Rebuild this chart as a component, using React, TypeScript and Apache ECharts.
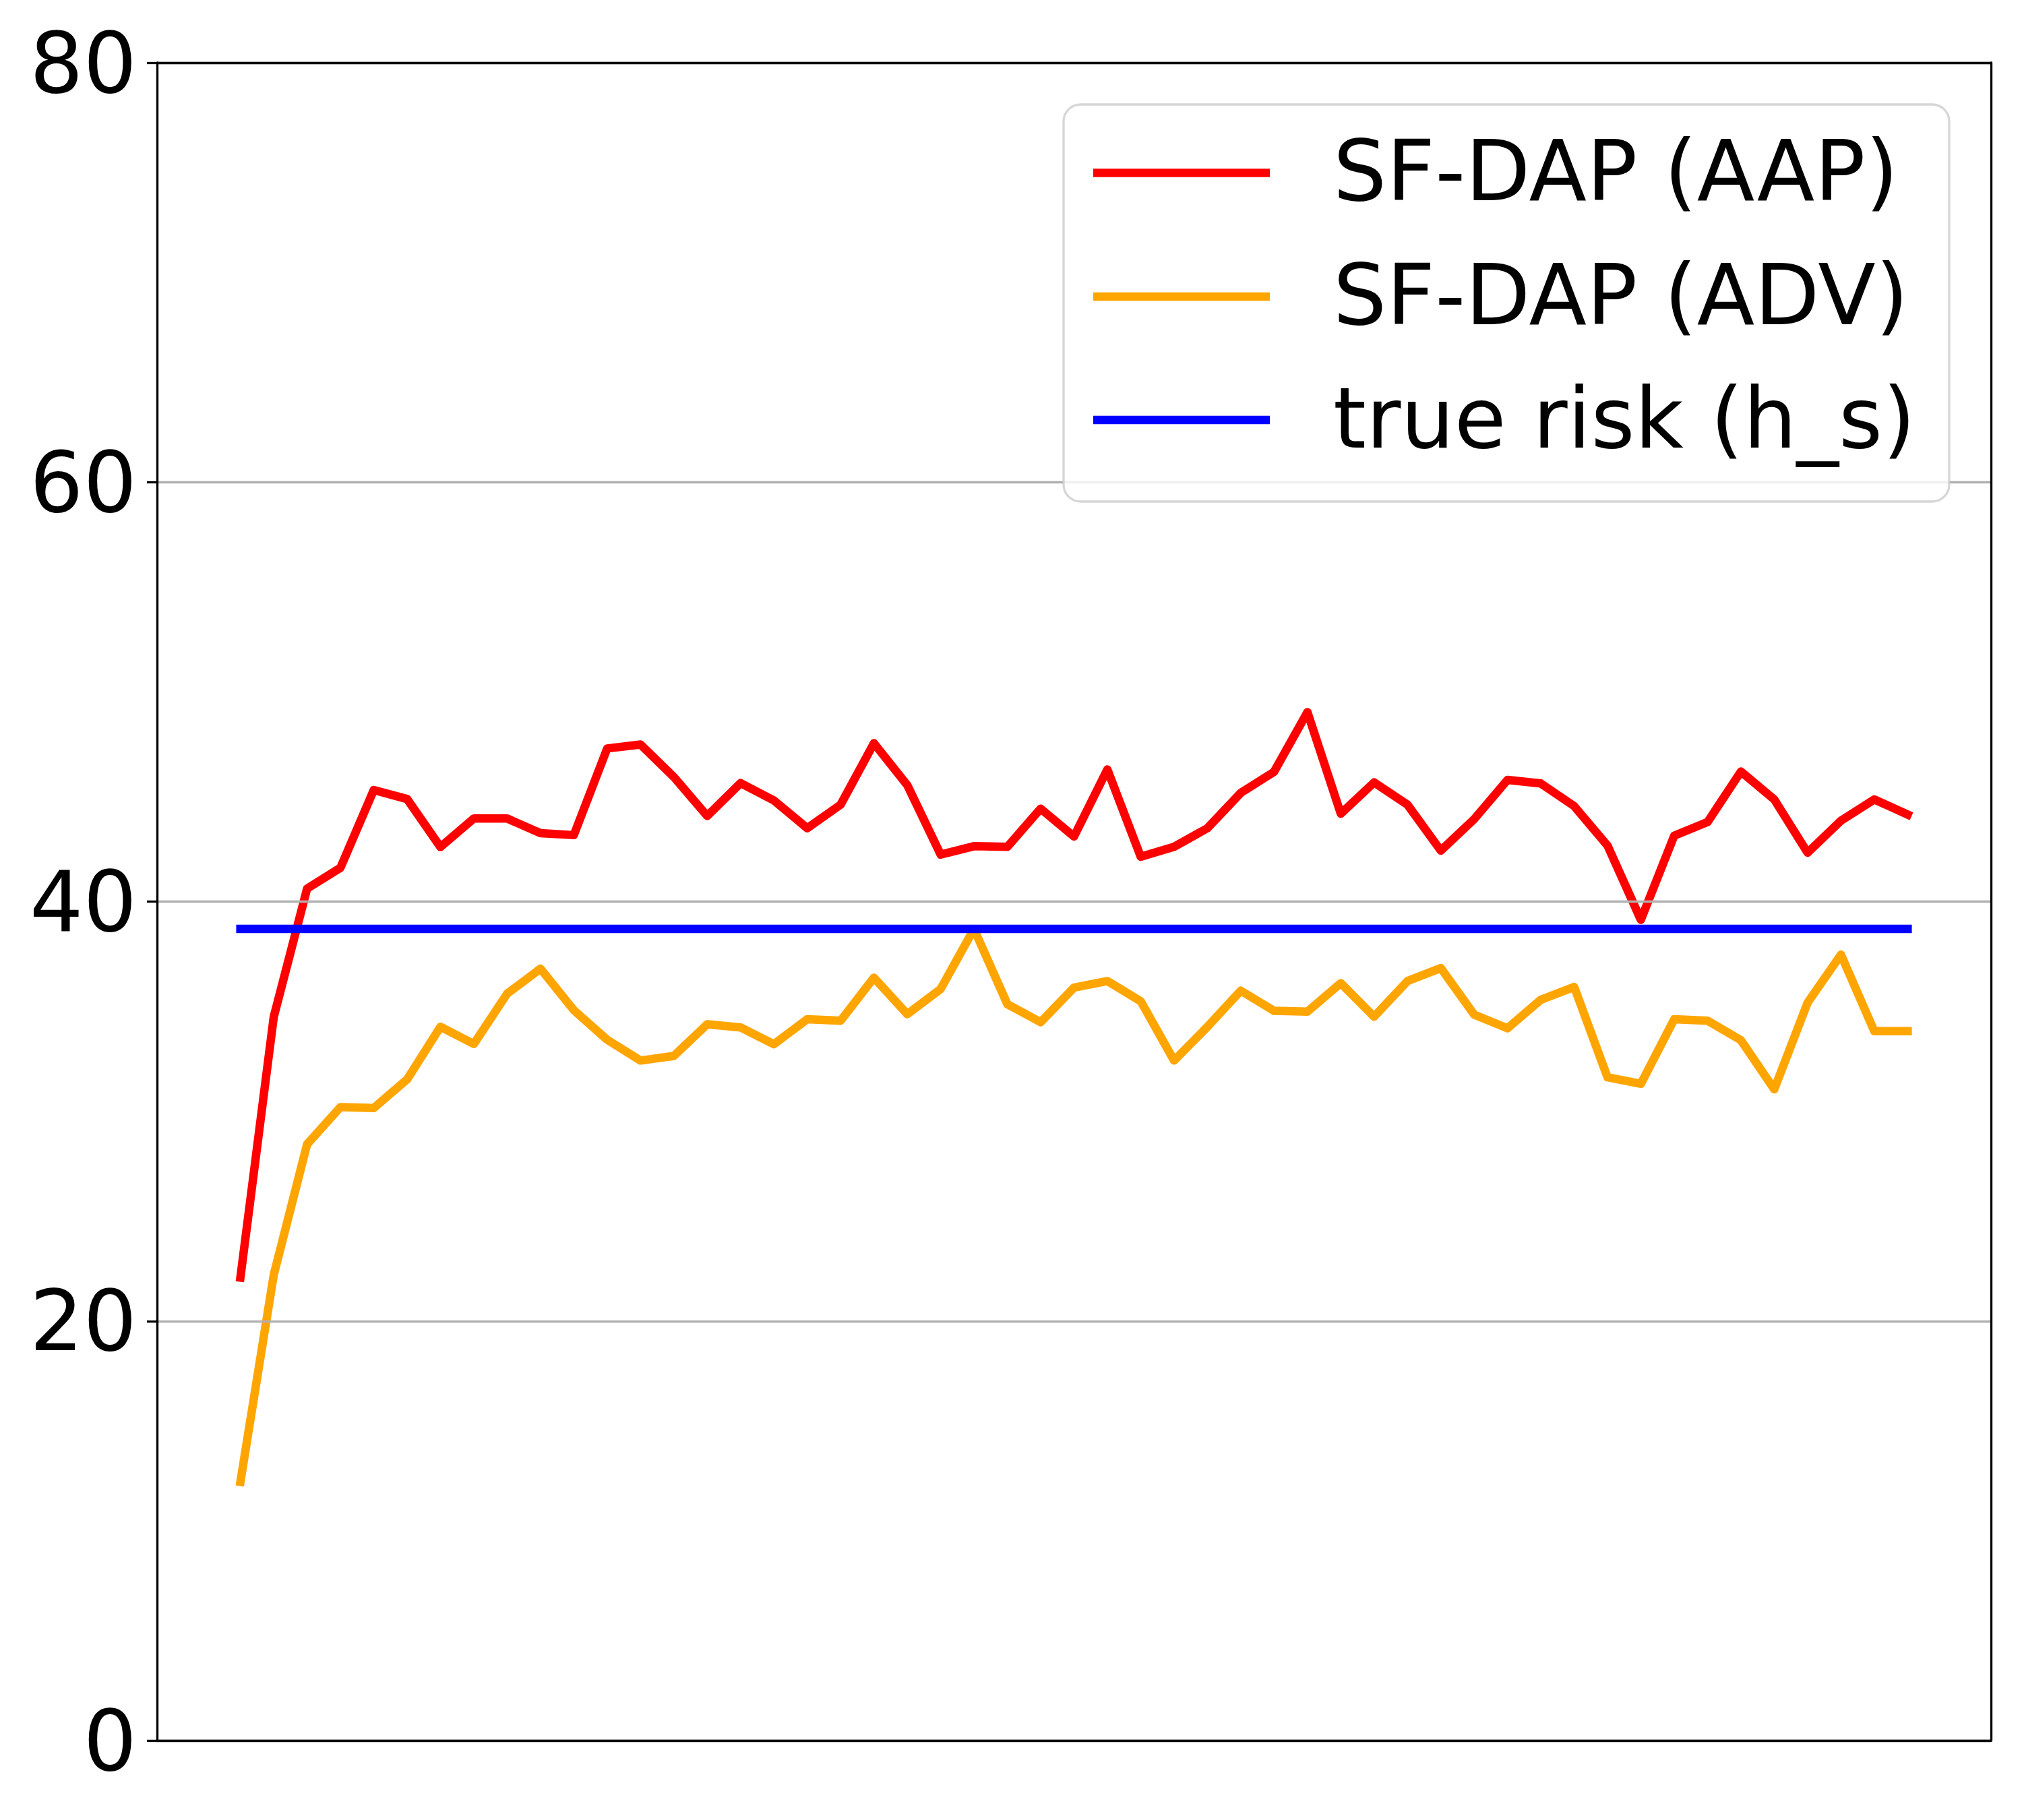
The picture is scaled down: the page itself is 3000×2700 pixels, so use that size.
import React, { useEffect, useRef } from "react";
import * as echarts from "echarts";

const xIndex: number[] = Array.from({ length: 51 }, (_, i) => i);

const aapValues: number[] = [
  22.07, 34.5, 40.62, 41.61, 45.32, 44.89, 42.6, 43.96, 43.96, 43.26, 43.17,
  47.3, 47.49, 45.94, 44.08, 45.65, 44.82, 43.5, 44.62, 47.55, 45.55, 42.24,
  42.64, 42.61, 44.43, 43.1, 46.3, 42.14, 42.61, 43.5, 45.18, 46.19, 49.03,
  44.19, 45.68, 44.62, 42.43, 43.93, 45.8, 45.63, 44.55, 42.67, 39.13, 43.14,
  43.79, 46.2, 44.87, 42.33, 43.86, 44.87, 44.15,
];

const advValues: number[] = [
  12.33, 22.2, 28.43, 30.2, 30.16, 31.52, 34.03, 33.21, 35.61, 36.8, 34.82,
  33.41, 32.42, 32.64, 34.15, 34.0, 33.2, 34.39, 34.32, 36.37, 34.63, 35.83,
  38.7, 35.11, 34.25, 35.9, 36.21, 35.25, 32.42, 34.03, 35.75, 34.79, 34.75,
  36.11, 34.51, 36.21, 36.83, 34.61, 33.96, 35.32, 35.93, 31.62, 31.31, 34.39,
  34.32, 33.39, 31.05, 35.18, 37.47, 33.82, 33.82,
];

const trueRisk = 38.7;

const seriesNames: string[] = ["SF-DAP (AAP)", "SF-DAP (ADV)", "true risk (h_s)"];
const seriesColors: string[] = ["#ff0000", "#ffa500", "#0000ff"];

const yTicks: number[] = [0, 20, 40, 60, 80];

const FONT = "DejaVu Sans";

export default function App() {
  const ref = useRef<HTMLDivElement>(null);

  useEffect(() => {
    document.body.style.margin = "0";
    if (!ref.current) return;
    const chart = echarts.init(ref.current, undefined, { renderer: "svg" });

    const lineW = 12.5;
    const spineW = 3.3;
    const mk = (vals: number[]) => xIndex.map((x, i) => [x, vals[i]]);
    const riskData = xIndex.map((x) => [x, trueRisk]);
    const allData = [mk(aapValues), mk(advValues), riskData];

    const legendX = 1578;
    const legendY = 155;
    const rowYs = [256.5, 440, 623];

    const legendGraphics: any[] = [
      {
        type: "rect",
        shape: { x: legendX, y: legendY, width: 1314, height: 589, r: 25 },
        style: {
          fill: "rgba(255,255,255,0.8)",
          stroke: "rgba(204,204,204,0.8)",
          lineWidth: 3.3,
        },
        z: 100,
      },
    ];
    seriesNames.forEach((name, i) => {
      legendGraphics.push({
        type: "line",
        shape: { x1: 1622, y1: rowYs[i], x2: 1884, y2: rowYs[i] },
        style: { stroke: seriesColors[i], lineWidth: lineW },
        z: 101,
      });
      legendGraphics.push({
        type: "text",
        x: 1978,
        y: rowYs[i] - 3,
        style: {
          text: name,
          fontSize: 125,
          fontFamily: FONT,
          fill: "#000",
          verticalAlign: "middle",
          align: "left",
        },
        z: 101,
      });
    });

    const spine = { show: true, onZero: false, lineStyle: { color: "#000", width: spineW } };
    const xMin = -2.5;
    const xMax = 52.5;

    chart.setOption({
      animation: false,
      backgroundColor: "#ffffff",
      grid: {
        left: 233,
        right: 46,
        top: 93,
        bottom: 118,
        show: false,
        containLabel: false,
      },
      xAxis: [
        {
          type: "value",
          position: "bottom",
          min: xMin,
          max: xMax,
          axisLine: spine,
          axisTick: { show: false },
          axisLabel: { show: false },
          splitLine: { show: false },
          z: 10,
        },
        {
          type: "value",
          position: "top",
          min: xMin,
          max: xMax,
          axisLine: spine,
          axisTick: { show: false },
          axisLabel: { show: false },
          splitLine: { show: false },
          z: 10,
        },
      ],
      yAxis: [
        {
          type: "value",
          position: "left",
          min: yTicks[0],
          max: yTicks[yTicks.length - 1],
          interval: 20,
          axisLine: spine,
          axisTick: {
            show: true,
            length: 15,
            lineStyle: { color: "#000", width: spineW },
          },
          axisLabel: {
            fontSize: 125,
            fontFamily: FONT,
            color: "#000",
            margin: 30,
          },
          splitLine: {
            show: true,
            lineStyle: { color: "#b0b0b0", width: spineW },
          },
          z: 10,
        },
        {
          type: "value",
          position: "right",
          min: yTicks[0],
          max: yTicks[yTicks.length - 1],
          interval: 20,
          axisLine: spine,
          axisTick: { show: false },
          axisLabel: { show: false },
          splitLine: { show: false },
          z: 10,
        },
      ],
      series: seriesNames.map((name, i) => ({
        name,
        type: "line",
        xAxisIndex: 0,
        yAxisIndex: 0,
        data: allData[i],
        showSymbol: false,
        symbol: "none",
        lineStyle: {
          color: seriesColors[i],
          width: lineW,
          cap: "square",
          join: "round",
        },
        itemStyle: { color: seriesColors[i] },
        z: 2 + i,
      })),
      graphic: legendGraphics,
    });

    return () => {
      chart.dispose();
    };
  }, []);

  return <div ref={ref} style={{ width: 3000, height: 2700 }} />;
}
